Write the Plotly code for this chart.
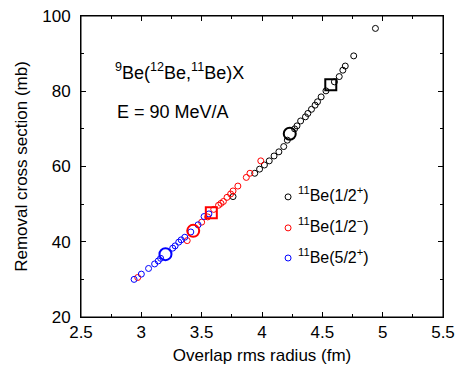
import plotly.graph_objects as go

# 11Be(1/2+) small points
bp_x = [3.76, 3.94, 3.98, 4.02, 4.06, 4.10, 4.14, 4.18, 4.21, 4.27, 4.29, 4.32, 4.36, 4.38, 4.41, 4.44,
        4.46, 4.49, 4.53, 4.60, 4.64, 4.67, 4.69, 4.76, 4.94]
bp_y = [52.0, 58.2, 59.3, 60.4, 61.5, 62.8, 63.9, 65.3, 67.0, 70.0, 70.8, 72.1, 73.2, 74.1, 75.2, 76.3,
        77.2, 78.5, 80.1, 82.5, 83.9, 85.6, 86.7, 89.4, 96.7]
# 11Be(1/2-) small points
rm_x = [2.97, 3.38, 3.50, 3.55, 3.60, 3.64, 3.66, 3.68, 3.71, 3.74, 3.76, 3.80, 3.87, 3.90, 3.99]
rm_y = [30.5, 40.3, 45.2, 46.6, 48.6, 49.7, 50.2, 50.7, 51.8, 52.7, 53.5, 54.8, 57.1, 58.2, 61.5]
# 11Be(5/2+) small points
bl_x = [2.94, 3.00, 3.06, 3.11, 3.14, 3.16, 3.26, 3.28, 3.31, 3.33, 3.36, 3.41, 3.47, 3.52, 3.56]
bl_y = [30.0, 31.4, 32.9, 34.1, 34.9, 35.6, 38.3, 38.9, 39.9, 40.5, 41.2, 42.6, 44.5, 46.7, 47.4]

# highlighted points
big_c_x = [4.23, 3.43, 3.20]
big_c_y = [68.7, 42.9, 36.7]
big_c_col = ["black", "red", "blue"]
sq_x = [4.57, 3.58]
sq_y = [81.7, 47.7]
sq_col = ["black", "red"]

legend_labels = ["<sup>11</sup>Be(1/2<sup>+</sup>)", "<sup>11</sup>Be(1/2<sup>−</sup>)", "<sup>11</sup>Be(5/2<sup>+</sup>)"]
legend_colors = ["black", "red", "blue"]

x_ticks = [2.5, 3, 3.5, 4, 4.5, 5, 5.5]
y_ticks = [20, 40, 60, 80, 100]

fig = go.Figure()
for xs, ys, c in [(bp_x, bp_y, "black"), (rm_x, rm_y, "red"), (bl_x, bl_y, "blue")]:
    fig.add_trace(go.Scatter(x=xs, y=ys, mode="markers",
                             marker=dict(symbol="circle-open", size=6, color=c, line=dict(width=1)),
                             showlegend=False))
fig.add_trace(go.Scatter(x=big_c_x, y=big_c_y, mode="markers",
                         marker=dict(symbol="circle-open", size=12, color=big_c_col, line=dict(width=2)),
                         showlegend=False))
fig.add_trace(go.Scatter(x=sq_x, y=sq_y, mode="markers",
                         marker=dict(symbol="square-open", size=11, color=sq_col, line=dict(width=2)),
                         showlegend=False))

font = "Liberation Sans, Arial, sans-serif"
# legend (plot area: 81..443 px wide, 16..317 px tall)
leg_y = [0.399, 0.296, 0.196]
for lab, c, yy in zip(legend_labels, legend_colors, leg_y):
    fig.add_shape(type="circle", xref="paper", yref="paper", xsizemode="pixel", ysizemode="pixel",
                  xanchor=0.572, yanchor=yy, x0=-3, x1=3, y0=-3, y1=3,
                  line=dict(color=c, width=1))
    fig.add_annotation(xref="paper", yref="paper", x=0.595, y=yy + 0.008, text=lab, showarrow=False,
                       xanchor="left", yanchor="middle", font=dict(size=16, color="black", family=font))

fig.add_annotation(xref="paper", yref="paper", x=0.088, y=0.815,
                   text="<sup>9</sup>Be(<sup>12</sup>Be,<sup>11</sup>Be)X", showarrow=False,
                   xanchor="left", yanchor="middle", font=dict(size=18, color="black", family=font))
fig.add_annotation(xref="paper", yref="paper", x=0.095, y=0.68,
                   text="E = 90 MeV/A", showarrow=False,
                   xanchor="left", yanchor="middle", font=dict(size=18, color="black", family=font))

fig.add_shape(type="rect", xref="paper", yref="paper", x0=0, x1=1, y0=0, y1=1,
              line=dict(color="black", width=1))

axis_common = dict(showgrid=False, zeroline=False, showline=True, linecolor="black", linewidth=1,
                   mirror="allticks", ticks="inside", ticklen=5, tickcolor="black", automargin=False,
                   tickfont=dict(size=17, color="black", family=font))
fig.update_xaxes(range=[2.5, 5.5], tickvals=x_ticks, ticktext=[str(v) for v in x_ticks],
                 minor=dict(dtick=0.25, ticks="inside", ticklen=3, tickcolor="black", showgrid=False),
                 title=dict(text="Overlap rms radius (fm)", font=dict(size=17, color="black", family=font), standoff=9),
                 **axis_common)
fig.update_yaxes(range=[20, 100], tickvals=y_ticks, ticktext=[str(v) for v in y_ticks],
                 minor=dict(dtick=10, ticks="inside", ticklen=3, tickcolor="black", showgrid=False),
                 ticklabelstandoff=6,
                 title=dict(text="Removal cross section (mb)", font=dict(size=17, color="black", family=font), standoff=10),
                 **axis_common)
fig.update_layout(width=456, height=365, margin=dict(l=81, r=13, t=16, b=48),
                  plot_bgcolor="white", paper_bgcolor="white", font=dict(family=font))
fig.write_html("out.html", config={"displayModeBar": False},
               post_script="document.body.style.margin='0';document.body.style.overflow='hidden';")
